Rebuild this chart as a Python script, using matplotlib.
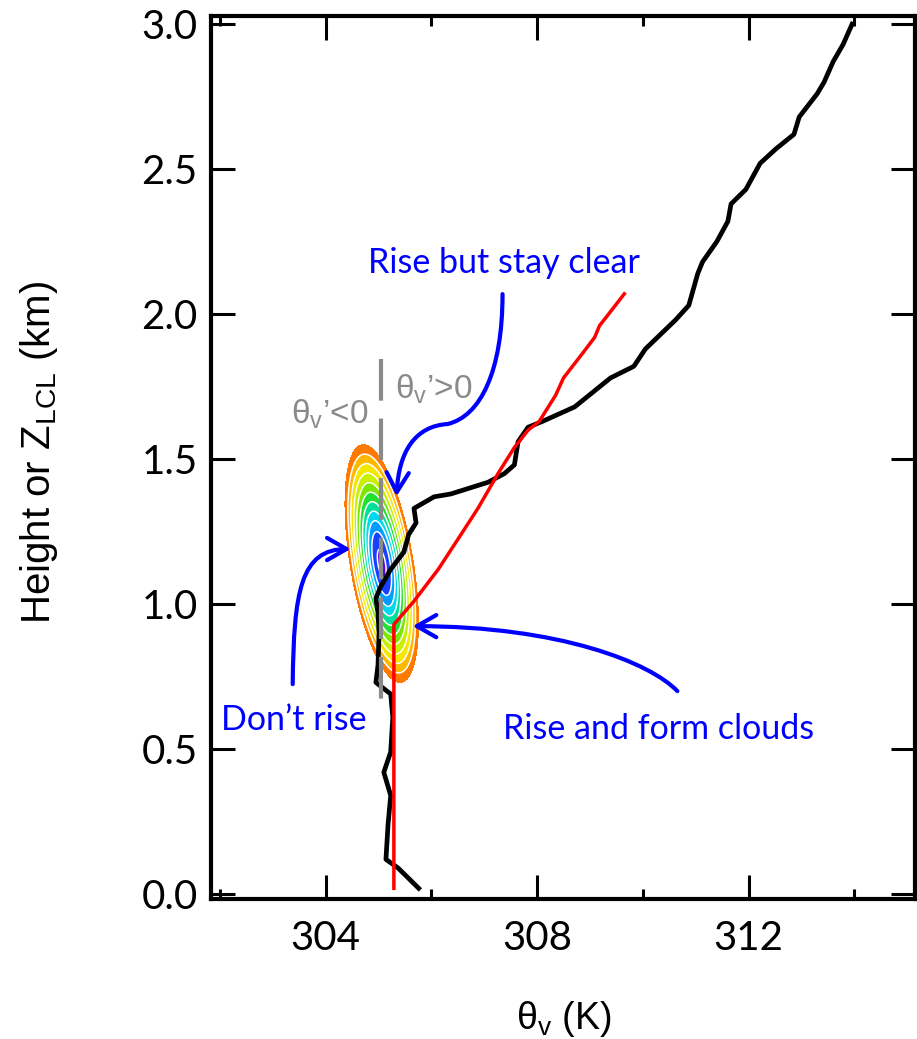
import numpy as np
import matplotlib
matplotlib.use("Agg")
import matplotlib.pyplot as plt
from matplotlib.path import Path
from matplotlib.patches import FancyArrowPatch
from matplotlib.ticker import MultipleLocator, FormatStrFormatter

plt.rcParams['font.family'] = ['Lato', 'DejaVu Sans']
plt.rcParams['mathtext.fontset'] = 'custom'
plt.rcParams['mathtext.rm'] = 'Liberation Sans'
plt.rcParams['mathtext.it'] = 'Liberation Sans:italic'
plt.rcParams['mathtext.bf'] = 'Liberation Sans:bold'

# ---------------------------------------------------------------------------
# data
# ---------------------------------------------------------------------------
# environmental theta_v profile (black)
env_theta = [305.76, 305.37, 305.14, 305.18, 305.23, 305.10, 305.23, 305.27,
             305.23, 304.95, 304.99, 305.01, 304.99, 304.95, 305.04, 305.23,
             305.48, 305.57, 305.71, 305.67, 306.05, 306.37, 307.07, 307.38,
             307.57, 307.64, 307.83, 308.10, 308.71, 309.39, 309.83, 310.05,
             310.62, 310.87, 311.04, 311.13, 311.40, 311.61, 311.67, 311.95,
             312.22, 312.52, 312.86, 312.96, 313.30, 313.43, 313.60, 313.79,
             313.96]
env_z = [0.02, 0.09, 0.12, 0.24, 0.34, 0.42, 0.49, 0.61,
         0.69, 0.73, 0.79, 0.90, 0.97, 1.02, 1.06, 1.12,
         1.18, 1.24, 1.28, 1.33, 1.37, 1.38, 1.42, 1.45,
         1.48, 1.56, 1.61, 1.63, 1.68, 1.78, 1.82, 1.88,
         1.98, 2.03, 2.14, 2.18, 2.25, 2.32, 2.38, 2.43,
         2.52, 2.57, 2.62, 2.68, 2.76, 2.80, 2.87, 2.93,
         3.00]

# parcel theta_v (red)
parcel_theta = [305.29, 305.29, 305.67, 306.13, 306.56, 306.88, 307.26, 307.57,
                307.83, 308.04, 308.35, 308.50, 308.84, 309.09, 309.18, 309.31,
                309.65]
parcel_z = [0.02, 0.93, 1.01, 1.12, 1.24, 1.33, 1.45, 1.54,
            1.60, 1.63, 1.72, 1.78, 1.86, 1.92, 1.96, 1.99,
            2.07]

# joint pdf of (theta_v, z_LCL): centre, spreads, correlation
pdf_center = (305.06, 1.14)
pdf_spread = (0.278, 0.164)
pdf_corr = -0.50
pdf_levels = [0.044, 0.071, 0.110, 0.164, 0.236, 0.325, 0.430, 0.546,
              0.667, 0.799, 0.956, 1.01]
pdf_colors = ['#ff7a00', '#ffb800', '#f5e800', '#c8f000', '#7ae800', '#22e030',
              '#00e09a', '#00d8f0', '#009cff', '#1840ff', '#5a00d8']

# mean theta_v divider (grey dashed)
divider_theta = [305.04, 305.04]
divider_z = [1.845, 0.665]

x_ticks = [304, 308, 312]
y_ticks = [0.0, 0.5, 1.0, 1.5, 2.0, 2.5, 3.0]

# ---------------------------------------------------------------------------
fig = plt.figure(figsize=(9.17, 10.39), dpi=100)
ax = fig.add_axes([0.2301, 0.1347, 0.7677, 0.8499])

# pdf contours
tx = np.linspace(303.3, 306.8, 400)
tz = np.linspace(0.3, 2.0, 400)
TX, TZ = np.meshgrid(tx, tz)
ux = (TX - pdf_center[0]) / pdf_spread[0]
uz = (TZ - pdf_center[1]) / pdf_spread[1]
dens = np.exp(-0.5 * (ux**2 - 2 * pdf_corr * ux * uz + uz**2) / (1 - pdf_corr**2))
ax.contourf(TX, TZ, dens, levels=pdf_levels, colors=pdf_colors, zorder=1)
ax.contour(TX, TZ, dens, levels=pdf_levels[1:-1], colors='white', linewidths=1.1, zorder=1.5)

ax.plot(env_theta, env_z, color='black', lw=3.4, zorder=3)
ax.plot(parcel_theta, parcel_z, color='#ff0000', lw=2.5, zorder=4)
ax.plot(divider_theta, divider_z, color='#8a8a8a', lw=3, dashes=(10, 4.3),
        dash_capstyle='butt', zorder=5)

# grey labels
ax.text(304.08, 1.624, 'θ$_\\mathrm{v}$’<0', color='#8a8a8a', fontsize=24,
        family='Liberation Sans', ha='center', va='baseline', zorder=6)
ax.text(306.04, 1.710, 'θ$_\\mathrm{v}$’>0', color='#8a8a8a', fontsize=24,
        family='Liberation Sans', ha='center', va='baseline', zorder=6)

# blue annotations
blue = '#0000ff'


def blue_arrow(verts, codes):
    arr = FancyArrowPatch(path=Path(verts, codes),
                          arrowstyle='->,head_length=0.7,head_width=0.4',
                          mutation_scale=20, color=blue, lw=3,
                          capstyle='round', joinstyle='round', zorder=7)
    ax.add_patch(arr)


C4 = Path.CURVE4
blue_arrow([(307.346, 2.069), (307.346, 1.803), (306.930, 1.648), (306.306, 1.621),
            (305.701, 1.614), (305.380, 1.528), (305.342, 1.372)],
           [Path.MOVETO, C4, C4, C4, C4, C4, C4])
blue_arrow([(303.376, 0.724), (303.395, 1.045), (303.527, 1.190), (304.473, 1.190)],
           [Path.MOVETO, C4, C4, C4])
blue_arrow([(310.654, 0.700), (310.144, 0.797), (308.442, 0.924), (305.645, 0.924)],
           [Path.MOVETO, C4, C4, C4])

ax.text(307.374, 2.141, 'Rise but stay clear', color=blue, fontsize=24.5,
        ha='center', va='baseline', zorder=8)
ax.text(303.39, 0.566, 'Don’t rise', color=blue, fontsize=24.5,
        ha='center', va='baseline', zorder=8)
ax.text(310.30, 0.534, 'Rise and form clouds', color=blue, fontsize=24.5,
        ha='center', va='baseline', zorder=8)

# axes styling
ax.set_xlim(301.83, 315.15)
ax.set_ylim(-0.017, 3.028)
ax.set_xticks(x_ticks)
ax.xaxis.set_minor_locator(MultipleLocator(2))
ax.set_yticks(y_ticks)
ax.xaxis.set_major_formatter(FormatStrFormatter('%d'))
ax.yaxis.set_major_formatter(FormatStrFormatter('%.1f'))
ax.tick_params(which='both', direction='in', top=True, right=True, width=2.2, color='black')
ax.tick_params(which='major', length=17)
ax.tick_params(which='minor', length=7)
ax.tick_params(axis='x', which='major', pad=15, labelsize=29)
ax.tick_params(axis='y', which='major', pad=9.5, labelsize=29)
for sp in ax.spines.values():
    sp.set_linewidth(3)

ax.set_xlabel('θ$_\\mathrm{v}$ (K)', family='Liberation Sans', fontsize=27, va='top')
ax.xaxis.set_label_coords(0.501, -0.113)
ax.set_ylabel('Height or Z$_\\mathrm{LCL}$ (km)', family='Liberation Sans', fontsize=29)
ax.yaxis.set_label_coords(-0.2145, 0.506)

fig.savefig('out.png', dpi=100)
